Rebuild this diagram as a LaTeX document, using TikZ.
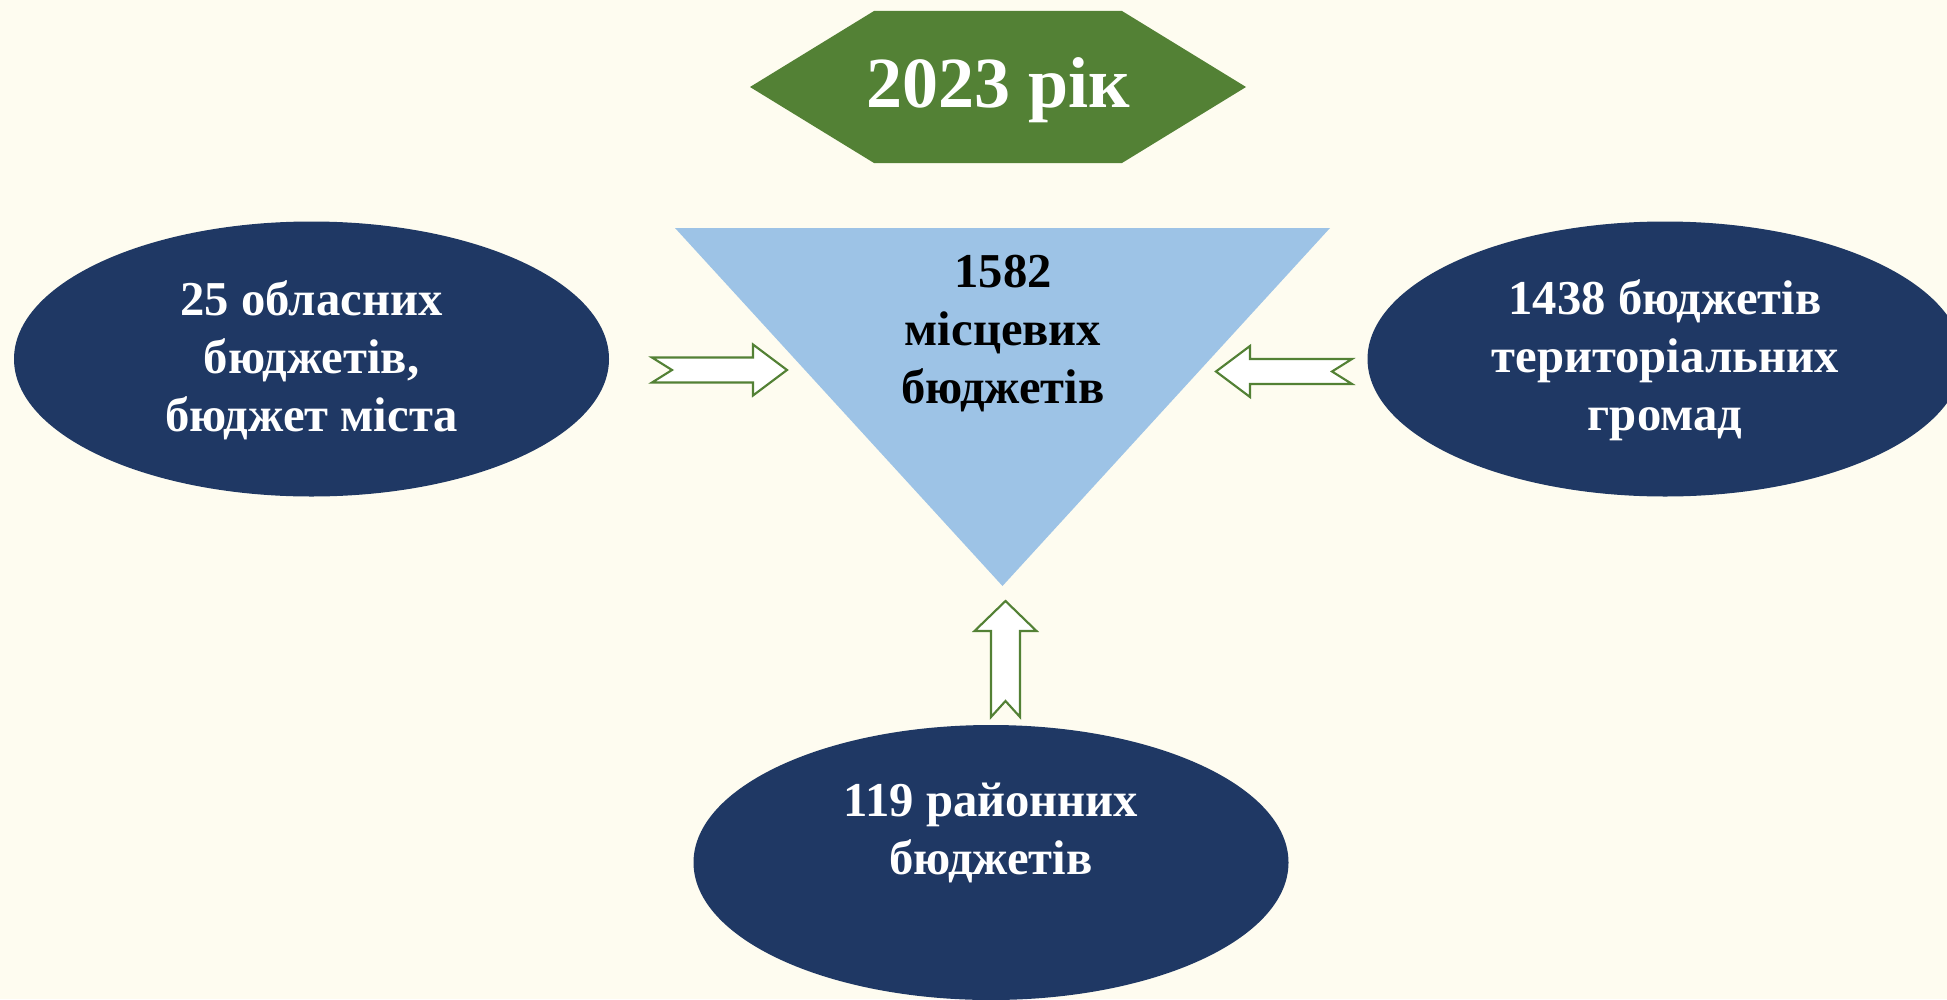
\documentclass[tikz,border=0pt]{standalone}
\usepackage{fontspec}
\setmainfont{Liberation Serif}
\usetikzlibrary{shapes.geometric}
\definecolor{bg}{RGB}{254,252,240}
\definecolor{navy}{RGB}{31,56,100}
\definecolor{leaf}{RGB}{83,129,53}
\definecolor{sky}{RGB}{157,195,230}
\begin{document}
\begin{tikzpicture}[x=0.75pt,y=-0.75pt,
  oval/.style={ellipse,fill=navy,minimum width=446.25pt,minimum height=206.25pt,inner sep=0pt},
  wtxt/.style={text=white,font=\fontsize{36.5}{43.5}\selectfont\bfseries,align=center,inner sep=0pt},
  btxt/.style={wtxt,text=black},
  blockarrow/.style={draw=leaf,fill=white,line width=1.6pt,line join=miter}]
\useasboundingbox (0,0) rectangle (1947,999);
\clip (0,0) rectangle (1947,999);
\fill[bg] (0,0) rectangle (1947,999);
% year banner
\fill[leaf] (750,87) -- (874,11) -- (1122,11) -- (1246,87) -- (1122,163) -- (874,163) -- cycle;
\node[wtxt,font=\fontsize{54}{60}\selectfont\bfseries,anchor=base] (year) at (998,108) {2023 рік};
% triangle
\fill[sky] (675,228) -- (1330,228) -- (1002.5,586) -- cycle;
\node[btxt] (total) at (1003,333.5) {1582\\місцевих\\бюджетів};
% ellipses
\node[oval] (obl) at (311.5,359) {};
\node[wtxt] (oblt) at (311.5,360.5) {25 обласних\\бюджетів,\\бюджет міста};
\node[oval] (gro) at (1665,359) {};
\node[wtxt] (grot) at (1665,360.5) {1438 бюджетів\\територіальних\\громад};
\node[oval] (ray) at (991,862.5) {};
\node[wtxt] (rayt) at (991,832.5) {119 районних\\бюджетів};
% block arrows
\draw[blockarrow] (652,357.5) -- (753,357.5) -- (753,344.5) -- (787,370) -- (753,395.5) -- (753,382.5) -- (652,382.5) -- (672,370) -- cycle;
\draw[blockarrow] (1352,359) -- (1250,359) -- (1250,346) -- (1216,371.5) -- (1250,397) -- (1250,384) -- (1352,384) -- (1332,371.5) -- cycle;
\draw[blockarrow] (991,717) -- (991,631) -- (974.5,631) -- (1005.5,601) -- (1036.5,631) -- (1020,631) -- (1020,717) -- (1005.5,701) -- cycle;
\end{tikzpicture}
\end{document}
